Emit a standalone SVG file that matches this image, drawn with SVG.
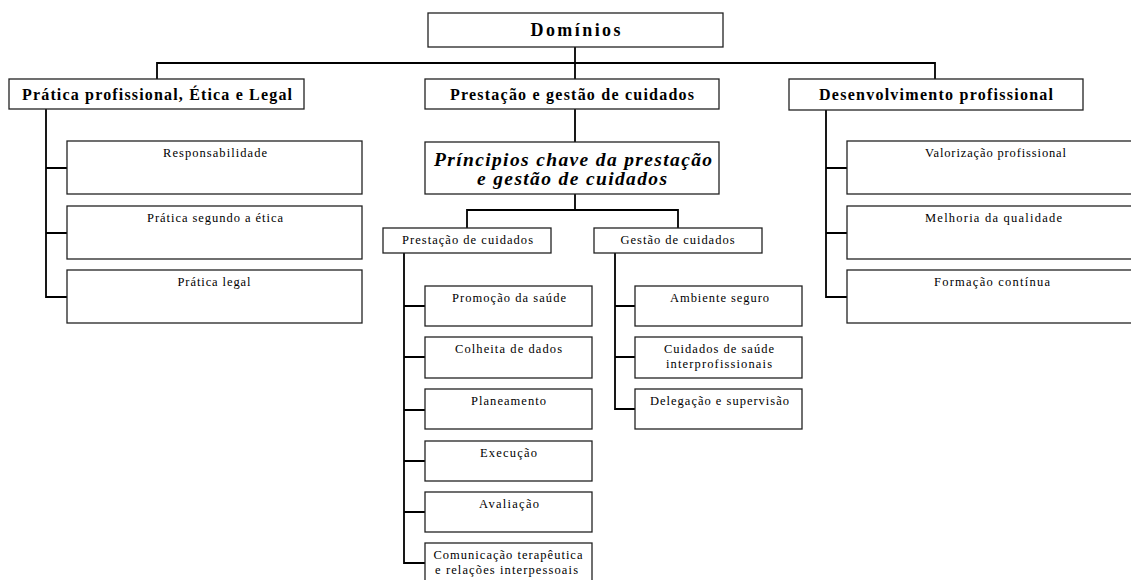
<svg xmlns="http://www.w3.org/2000/svg" width="1131" height="580" viewBox="0 0 1131 580">
<style>
.box{fill:#fff;stroke:#222;stroke-width:1.3}
.con{fill:none;stroke:#000;stroke-width:1.8}
text{font-family:"Liberation Serif","Times New Roman",serif;fill:#000;text-anchor:middle}
.t0{font-size:18px;font-weight:bold}
.t1{font-size:16px;font-weight:bold}
.t2{font-size:19.5px;font-weight:bold;font-style:italic}
.t3{font-size:12.5px}
</style>
<rect width="1131" height="580" fill="#fff"/>
<g id="connectors">
<path class="con" d="M575,47V79M157,79V63H935V79"/>
<path class="con" d="M575,109V142M575,194V210M467,228V210H678V228"/>
<path class="con" d="M46,109V297H67M46,168H67M46,233H67"/>
<path class="con" d="M826,110V297H847M826,168H847M826,233H847"/>
<path class="con" d="M404,253V563H425M404,306H425M404,357H425M404,410H425M404,461H425M404,512H425"/>
<path class="con" d="M615,253V409H635M615,306H635M615,357H635"/>
</g>
<g id="dominios"><rect class="box" x="428" y="13" width="295" height="34"/><text class="t0" x="575.5" y="35.5" textLength="90" lengthAdjust="spacing">Domínios</text></g>
<g id="pratica"><rect class="box" x="9" y="79" width="295" height="30"/><text class="t1" x="157" y="99.5" textLength="270" lengthAdjust="spacing">Prática profissional, Ética e Legal</text></g>
<g id="prestacao-gestao"><rect class="box" x="425" y="79" width="294" height="30"/><text class="t1" x="572" y="99.5" textLength="244" lengthAdjust="spacing">Prestação e gestão de cuidados</text></g>
<g id="desenvolvimento"><rect class="box" x="789" y="79" width="294" height="31"/><text class="t1" x="936" y="99.5" textLength="234" lengthAdjust="spacing">Desenvolvimento profissional</text></g>
<g id="principios"><rect class="box" x="425" y="142" width="294" height="52"/><text class="t2" x="573" y="165.5" textLength="278" lengthAdjust="spacing">Príncipios chave da prestação</text><text class="t2" x="572" y="184.5" textLength="190" lengthAdjust="spacing">e gestão de cuidados</text></g>
<g id="responsabilidade"><rect class="box" x="67" y="141" width="295" height="53"/><text class="t3" x="215" y="157" textLength="104" lengthAdjust="spacing">Responsabilidade</text></g>
<g id="etica"><rect class="box" x="67" y="206" width="295" height="53"/><text class="t3" x="215" y="222" textLength="136" lengthAdjust="spacing">Prática segundo a ética</text></g>
<g id="legal"><rect class="box" x="67" y="270" width="295" height="53"/><text class="t3" x="214" y="286" textLength="73" lengthAdjust="spacing">Prática legal</text></g>
<g id="valorizacao"><rect class="box" x="847" y="141" width="295" height="53"/><text class="t3" x="995.5" y="157" textLength="141" lengthAdjust="spacing">Valorização profissional</text></g>
<g id="melhoria"><rect class="box" x="847" y="206" width="295" height="53"/><text class="t3" x="993.5" y="222" textLength="137" lengthAdjust="spacing">Melhoria da qualidade</text></g>
<g id="formacao"><rect class="box" x="847" y="270" width="295" height="53"/><text class="t3" x="992" y="286" textLength="116" lengthAdjust="spacing">Formação contínua</text></g>
<g id="prestacao"><rect class="box" x="383" y="228" width="168" height="25"/><text class="t3" x="467.5" y="244" textLength="131" lengthAdjust="spacing">Prestação de cuidados</text></g>
<g id="gestao"><rect class="box" x="594" y="228" width="168" height="25"/><text class="t3" x="677.5" y="244" textLength="114" lengthAdjust="spacing">Gestão de cuidados</text></g>
<g id="promocao"><rect class="box" x="425" y="286" width="167" height="40"/><text class="t3" x="509" y="302" textLength="114" lengthAdjust="spacing">Promoção da saúde</text></g>
<g id="colheita"><rect class="box" x="425" y="337" width="167" height="41"/><text class="t3" x="508.5" y="353" textLength="107" lengthAdjust="spacing">Colheita de dados</text></g>
<g id="planeamento"><rect class="box" x="425" y="389" width="167" height="40"/><text class="t3" x="508.5" y="405" textLength="75" lengthAdjust="spacing">Planeamento</text></g>
<g id="execucao"><rect class="box" x="425" y="441" width="167" height="40"/><text class="t3" x="508.5" y="457" textLength="57" lengthAdjust="spacing">Execução</text></g>
<g id="avaliacao"><rect class="box" x="425" y="492" width="167" height="40"/><text class="t3" x="509" y="508" textLength="60" lengthAdjust="spacing">Avaliação</text></g>
<g id="comunicacao"><rect class="box" x="425" y="543" width="167" height="42"/><text class="t3" x="508" y="559" textLength="149" lengthAdjust="spacing">Comunicação terapêutica</text><text class="t3" x="506.5" y="574" textLength="143" lengthAdjust="spacing">e relações interpessoais</text></g>
<g id="ambiente"><rect class="box" x="635" y="286" width="167" height="40"/><text class="t3" x="719.5" y="302" textLength="99" lengthAdjust="spacing">Ambiente seguro</text></g>
<g id="interprof"><rect class="box" x="635" y="337" width="167" height="41"/><text class="t3" x="719" y="353" textLength="110" lengthAdjust="spacing">Cuidados de saúde</text><text class="t3" x="719" y="368" textLength="106" lengthAdjust="spacing">interprofissionais</text></g>
<g id="delegacao"><rect class="box" x="635" y="389" width="167" height="40"/><text class="t3" x="719.5" y="405" textLength="139" lengthAdjust="spacing">Delegação e supervisão</text></g>
</svg>
